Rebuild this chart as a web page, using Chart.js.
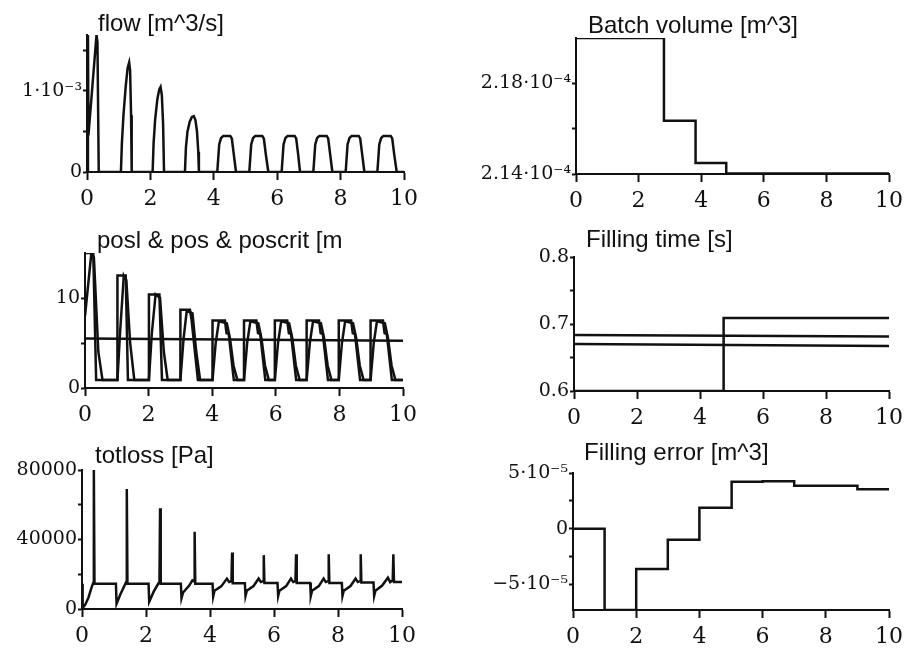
<!DOCTYPE html>
<html>
<head>
<meta charset="utf-8">
<script src="https://cdn.jsdelivr.net/npm/chart.js@4.4.1/dist/chart.umd.min.js"></script>
<style>
  body { margin: 0; background: #fff; width: 909px; height: 654px; position: relative; overflow: hidden; }
  canvas { position: absolute; }
</style>
</head>
<body>
<canvas id="flowChart" width="440" height="215" style="left:0;top:0"></canvas>
<canvas id="posChart" width="440" height="215" style="left:0;top:215px"></canvas>
<canvas id="lossChart" width="440" height="224" style="left:0;top:430px"></canvas>
<canvas id="batchChart" width="449" height="215" style="left:460px;top:0"></canvas>
<canvas id="timeChart" width="449" height="215" style="left:460px;top:215px"></canvas>
<canvas id="errorChart" width="449" height="224" style="left:460px;top:430px"></canvas>
<script>
// time axis shared by all panels
const xTicks = [0, 2, 4, 6, 8, 10];

// flow [m^3/s]
const flowT = [0, 0.03, 0.045, 0.30, 0.33, 0.37,
  1.07, 1.10, 1.15, 1.22, 1.28, 1.33, 1.36, 1.39, 1.41,
  2.07, 2.10, 2.15, 2.22, 2.28, 2.32, 2.36, 2.40, 2.43,
  3.09, 3.12, 3.17, 3.24, 3.31, 3.37, 3.42, 3.47, 3.51, 3.53,
  4.11, 4.17, 4.23, 4.30, 4.52, 4.57, 4.63, 4.70,
  5.12, 5.18, 5.24, 5.31, 5.53, 5.58, 5.64, 5.72,
  6.14, 6.20, 6.26, 6.33, 6.55, 6.60, 6.66, 6.72,
  7.14, 7.20, 7.26, 7.33, 7.56, 7.61, 7.67, 7.74,
  8.16, 8.22, 8.28, 8.35, 8.57, 8.62, 8.68, 8.75,
  9.16, 9.22, 9.28, 9.35, 9.58, 9.63, 9.69, 9.77, 10];
const flowV = [0, 1.69e-3, 0.45e-3, 1.69e-3, 1.6e-3, 0,
  0, 0.35e-3, 0.7e-3, 1.05e-3, 1.28e-3, 1.35e-3, 1.25e-3, 0.7e-3, 0,
  0, 0.35e-3, 0.65e-3, 0.9e-3, 1.02e-3, 1.05e-3, 0.95e-3, 0.6e-3, 0,
  0, 0.3e-3, 0.5e-3, 0.62e-3, 0.68e-3, 0.69e-3, 0.64e-3, 0.5e-3, 0.25e-3, 0,
  0, 0.34e-3, 0.42e-3, 0.445e-3, 0.445e-3, 0.41e-3, 0.22e-3, 0,
  0, 0.34e-3, 0.42e-3, 0.445e-3, 0.445e-3, 0.41e-3, 0.22e-3, 0,
  0, 0.34e-3, 0.42e-3, 0.445e-3, 0.445e-3, 0.41e-3, 0.22e-3, 0,
  0, 0.34e-3, 0.42e-3, 0.445e-3, 0.445e-3, 0.41e-3, 0.22e-3, 0,
  0, 0.34e-3, 0.42e-3, 0.445e-3, 0.445e-3, 0.41e-3, 0.22e-3, 0,
  0, 0.34e-3, 0.42e-3, 0.445e-3, 0.445e-3, 0.41e-3, 0.22e-3, 0, 0];
const flowYTicks = [0, 0.5e-3, 1e-3, 1.5e-3];
const flowYLabels = ['0', '', '1·10⁻³', ''];

// posl, pos, poscrit
const poslT = [0, 0.26, 0.35,
  1.02, 1.02, 1.28, 1.35,
  2.01, 2.01, 2.34, 2.42,
  3.00, 3.00, 3.30, 3.35, 3.55,
  4.01, 4.01, 4.40, 4.45, 4.52, 4.68,
  5.00, 5.00, 5.39, 5.44, 5.51, 5.67,
  5.97, 5.97, 6.36, 6.41, 6.48, 6.64,
  6.97, 6.97, 7.36, 7.41, 7.48, 7.64,
  7.98, 7.98, 8.37, 8.42, 8.49, 8.65,
  8.98, 8.98, 9.37, 9.42, 9.49, 9.65, 10];
const poslV = [15, 15, 0.9,
  0.9, 12.5, 12.5, 0.9,
  0.9, 10.4, 10.4, 0.9,
  0.9, 8.7, 8.7, 7.6, 0.9,
  0.9, 7.5, 7.5, 6.1, 6.0, 0.9,
  0.9, 7.5, 7.5, 6.1, 6.0, 0.9,
  0.9, 7.5, 7.5, 6.1, 6.0, 0.9,
  0.9, 7.5, 7.5, 6.1, 6.0, 0.9,
  0.9, 7.5, 7.5, 6.1, 6.0, 0.9,
  0.9, 7.5, 7.5, 6.1, 6.0, 0.9, 0.9];
const posT = [0, 0.20, 0.28, 0.42, 0.55,
  1.02, 1.10, 1.22, 1.30, 1.42, 1.55,
  2.01, 2.10, 2.22, 2.36, 2.48, 2.60,
  3.00, 3.10, 3.20, 3.38, 3.50, 3.62,
  4.01, 4.11, 4.21, 4.46, 4.56, 4.67, 4.79,
  5.00, 5.10, 5.20, 5.45, 5.55, 5.66, 5.78,
  5.97, 6.07, 6.17, 6.42, 6.52, 6.63, 6.75,
  6.97, 7.07, 7.17, 7.42, 7.52, 7.63, 7.75,
  7.98, 8.08, 8.18, 8.43, 8.53, 8.64, 8.76,
  8.98, 9.08, 9.18, 9.43, 9.53, 9.64, 9.76, 10];
const posV = [8, 15, 14.5, 4, 0.9,
  0.9, 6, 12.5, 12, 5, 0.9,
  0.9, 6, 10.4, 10, 4, 0.9,
  0.9, 5.5, 8.6, 8.3, 4, 0.9,
  0.9, 5.0, 7.4, 7.2, 5.5, 2.5, 0.9,
  0.9, 5.0, 7.4, 7.2, 5.5, 2.5, 0.9,
  0.9, 5.0, 7.4, 7.2, 5.5, 2.5, 0.9,
  0.9, 5.0, 7.4, 7.2, 5.5, 2.5, 0.9,
  0.9, 5.0, 7.4, 7.2, 5.5, 2.5, 0.9,
  0.9, 5.0, 7.4, 7.2, 5.5, 2.5, 0.9, 0.9];
const poscritT = [0, 10];
const poscritV = [5.5, 5.25];
const posYTicks = [0, 5, 10];
const posYLabels = ['0', '', '10'];

// totloss [Pa]
const lossT = [0, 0.02, 0.10, 0.20, 0.30, 0.35, 0.37, 0.39,
  1.06, 1.08, 1.20, 1.34, 1.38, 1.40, 1.42,
  2.08, 2.10, 2.24, 2.38, 2.42, 2.44, 2.46,
  3.09, 3.11, 3.16, 3.35, 3.45, 3.50, 3.52, 3.54,
  4.08, 4.10, 4.14, 4.35, 4.53, 4.60, 4.67, 4.69, 4.71,
  5.09, 5.11, 5.15, 5.36, 5.52, 5.59, 5.66, 5.68, 5.70,
  6.11, 6.13, 6.17, 6.38, 6.53, 6.60, 6.67, 6.69, 6.71,
  7.13, 7.15, 7.19, 7.40, 7.55, 7.62, 7.69, 7.71, 7.73,
  8.12, 8.14, 8.18, 8.39, 8.55, 8.62, 8.69, 8.71, 8.73,
  9.11, 9.13, 9.17, 9.38, 9.56, 9.63, 9.71, 9.73, 9.75, 10];
const lossV = [14500, 500, 2500, 6500, 12500, 15000, 80000, 14500,
  14500, 3000, 8500, 14000, 15500, 69000, 14500,
  14500, 4200, 10000, 14500, 15500, 58000, 14500,
  14500, 6200, 9500, 13500, 16500, 16000, 44500, 14500,
  14500, 7200, 10500, 13000, 17500, 15500, 16000, 32500, 14800,
  14800, 7500, 10500, 13200, 17500, 15500, 16000, 31000, 15000,
  15000, 7500, 10500, 13200, 17500, 15500, 16000, 31500, 15000,
  15000, 7500, 10500, 13200, 17500, 15500, 16000, 31500, 15000,
  15000, 7500, 10500, 13200, 17500, 15500, 16000, 31500, 15200,
  15200, 7500, 10500, 13500, 18000, 15500, 16500, 31500, 15500, 15500];
const lossYTicks = [0, 20000, 40000, 60000, 80000];
const lossYLabels = ['0', '', '40000', '', '80000'];

// Batch volume [m^3]
const batchT = [0, 2.81, 3.82, 4.80, 10];
const batchV = [2.2e-4, 2.1635e-4, 2.1449e-4, 2.1402e-4, 2.1401e-4];
const batchYTicks = [2.14e-4, 2.16e-4, 2.18e-4];
const batchYLabels = ['2.14·10⁻⁴', '', '2.18·10⁻⁴'];

// Filling time [s]
const fillUpperT = [0, 10];
const fillUpperV = [0.6836, 0.6815];
const fillLowerT = [0, 10];
const fillLowerV = [0.670, 0.667];
const fillStepT = [0, 4.75, 10];
const fillStepV = [0.6, 0.709, 0.707];
const timeYTicks = [0.6, 0.65, 0.7, 0.75, 0.8];
const timeYLabels = ['0.6', '', '0.7', '', '0.8'];

// Filling error [m^3]
const errT = [0, 1.0, 2.0, 3.0, 4.0, 5.02, 6.0, 7.0, 9.0, 10];
const errV = [0, -7.3e-5, -3.62e-5, -1.0e-5, 1.88e-5, 4.21e-5, 4.25e-5, 3.85e-5, 3.53e-5, 3.53e-5];
const errYTicks = [-5e-5, -2.5e-5, 0, 2.5e-5, 5e-5];
const errYLabels = ['−5·10⁻⁵', '', '0', '', '5·10⁻⁵'];

function pts(t, v) {
    return t.map((x, i) => ({ x: x, y: v[i] }));
}

function line(t, v, stepped) {
    return {
        data: pts(t, v),
        showLine: true,
        pointRadius: 0,
        borderColor: '#111',
        borderWidth: 2.5,
        stepped: stepped || false
    };
}

// draws the panel caption just above the top left corner of the plot
const panelTitle = {
    id: 'panelTitle',
    afterDraw(chart, args, opts) {
        const ctx = chart.ctx;
        ctx.save();
        ctx.font = '24px "Liberation Sans", Arial, sans-serif';
        ctx.fillStyle = '#111';
        ctx.textBaseline = 'alphabetic';
        ctx.fillText(opts.text, chart.chartArea.left + opts.dx, chart.chartArea.top - opts.dy);
        ctx.restore();
    }
};

function panel(id, p, datasets) {
    const ctx = document.getElementById(id).getContext('2d');
    return new Chart(ctx, {
        type: 'scatter',
        data: { datasets: datasets },
        plugins: [panelTitle],
        options: {
            responsive: false,
            animation: false,
            devicePixelRatio: 1,
            layout: { padding: p.padding },
            plugins: {
                legend: { display: false },
                tooltip: { enabled: false },
                panelTitle: { text: p.title, dx: p.dx, dy: p.dy }
            },
            scales: {
                x: {
                    type: 'linear',
                    min: 0,
                    max: 10,
                    afterBuildTicks: s => { s.ticks = xTicks.map(v => ({ value: v })); },
                    afterFit: s => { s.height = p.xHeight; },
                    ticks: {
                        callback: v => String(v),
                        font: { family: 'DejaVu Serif', size: 22 },
                        color: '#111',
                        padding: 6,
                        maxRotation: 0,
                        autoSkip: false
                    },
                    grid: { display: true, drawOnChartArea: false, drawTicks: true, tickLength: 8, tickWidth: 2, tickColor: '#111' },
                    border: { display: true, color: '#111', width: 2 }
                },
                y: {
                    type: 'linear',
                    min: p.yMin,
                    max: p.yMax,
                    afterBuildTicks: s => { s.ticks = p.yTicks.map(v => ({ value: v })); },
                    afterFit: s => { s.width = p.yWidth; },
                    ticks: {
                        callback: (v, i) => p.yLabels[i],
                        font: { family: 'DejaVu Serif', size: 19 },
                        color: '#111',
                        padding: 1,
                        autoSkip: false
                    },
                    grid: { display: true, drawOnChartArea: false, drawTicks: true, tickLength: 4, tickWidth: 2, tickColor: '#111' },
                    border: { display: true, color: '#111', width: 2 }
                }
            }
        }
    });
}

document.addEventListener('DOMContentLoaded', function () {
    panel('flowChart', {
        title: 'flow [m^3/s]', dx: 11, dy: 4,
        padding: { top: 35, right: 36, bottom: 0, left: 0 }, yWidth: 87, xHeight: 43,
        yMin: 0, yMax: 1.69e-3, yTicks: flowYTicks, yLabels: flowYLabels
    }, [line(flowT, flowV)]);

    panel('posChart', {
        title: 'posl & pos & poscrit [m', dx: 12, dy: 5,
        padding: { top: 38, right: 37, bottom: 0, left: 0 }, yWidth: 85, xHeight: 42,
        yMin: 0, yMax: 15, yTicks: posYTicks, yLabels: posYLabels
    }, [line(poslT, poslV), line(posT, posV), line(poscritT, poscritV)]);

    panel('lossChart', {
        title: 'totloss [Pa]', dx: 13, dy: 7,
        padding: { top: 40, right: 38, bottom: 0, left: 0 }, yWidth: 82, xHeight: 45,
        yMin: 0, yMax: 80000, yTicks: lossYTicks, yLabels: lossYLabels
    }, [line(lossT, lossV)]);

    panel('batchChart', {
        title: 'Batch volume [m^3]', dx: 12, dy: 5,
        padding: { top: 38, right: 16, bottom: 0, left: 0 }, yWidth: 116, xHeight: 41,
        yMin: 2.14e-4, yMax: 2.2e-4, yTicks: batchYTicks, yLabels: batchYLabels
    }, [line(batchT, batchV, 'before')]);

    panel('timeChart', {
        title: 'Filling time [s]', dx: 12, dy: 10,
        padding: { top: 42, right: 17, bottom: 0, left: 0 }, yWidth: 114, xHeight: 39,
        yMin: 0.6, yMax: 0.8, yTicks: timeYTicks, yLabels: timeYLabels
    }, [line(fillUpperT, fillUpperV), line(fillLowerT, fillLowerV), line(fillStepT, fillStepV, 'before')]);

    panel('errorChart', {
        title: 'Filling error [m^3]', dx: 11, dy: 13,
        padding: { top: 43, right: 18, bottom: 0, left: 0 }, yWidth: 113, xHeight: 44,
        yMin: -7.3e-5, yMax: 5e-5, yTicks: errYTicks, yLabels: errYLabels
    }, [line(errT, errV, 'before')]);
});
</script>
</body>
</html>
